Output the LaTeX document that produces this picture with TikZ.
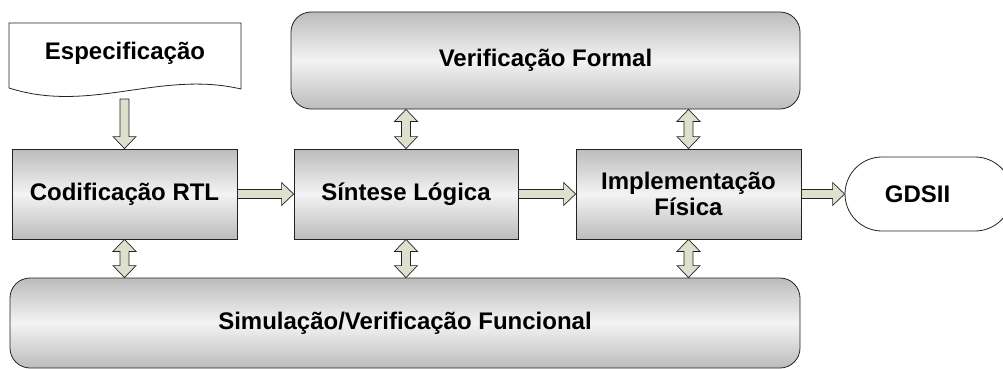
\documentclass[tikz,border=0pt]{standalone}
\usepackage{fontspec}
\setmainfont{Liberation Sans}
\usetikzlibrary{shapes.misc,calc}

\definecolor{boxgray}{RGB}{188,188,188}
\definecolor{boxlight}{RGB}{243,243,243}
\definecolor{arrowfill}{RGB}{221,224,204}
\definecolor{edge}{RGB}{35,35,35}

\tikzset{
  every node/.style={font=\bfseries\fontsize{24}{26.5}\selectfont, inner sep=0pt, align=center},
  stage/.style={rectangle, draw=edge, line width=0.8pt,
                top color=boxgray, bottom color=boxgray, middle color=boxlight},
  band/.style={stage, rounded corners=20pt},
  terminal/.style={rounded rectangle, draw=edge, line width=0.8pt, fill=white},
  fatarrow/.style={draw=edge, line width=0.7pt, fill=arrowfill, line join=miter},
}

% block arrow pointing right, from the east side of #1 to the west side of #2
\newcommand\fatright[2]{%
  \path[fatarrow] let \p1=(#1.east), \p2=(#2.west) in
    (\x1,\y1+4.5pt) -- (\x2-12pt,\y1+4.5pt) -- (\x2-12pt,\y1+11.5pt) -- (\x2,\y1)
    -- (\x2-12pt,\y1-11.5pt) -- (\x2-12pt,\y1-4.5pt) -- (\x1,\y1-4.5pt) -- cycle;}

% block arrow pointing down, from coordinate #1 to the top of node #2
\newcommand\fatdown[2]{%
  \path[fatarrow] let \p1=(#1), \p2=(#2.north) in
    (\x2-4.5pt,\y1) -- (\x2+4.5pt,\y1) -- (\x2+4.5pt,\y2+12pt) -- (\x2+11.5pt,\y2+12pt)
    -- (\x2,\y2) -- (\x2-11.5pt,\y2+12pt) -- (\x2-4.5pt,\y2+12pt) -- cycle;}

% vertical two-headed block arrow at the x of node #1, between node #2 (above) and node #3 (below)
\newcommand\fatboth[3]{%
  \path[fatarrow] let \p1=(#1.center), \p2=(#2.south), \p3=(#3.north) in
    (\x1,\y2) -- (\x1+11.5pt,\y2-12pt) -- (\x1+4.5pt,\y2-12pt) -- (\x1+4.5pt,\y3+12pt)
    -- (\x1+11.5pt,\y3+12pt) -- (\x1,\y3) -- (\x1-11.5pt,\y3+12pt) -- (\x1-4.5pt,\y3+12pt)
    -- (\x1-4.5pt,\y2-12pt) -- (\x1-11.5pt,\y2-12pt) -- cycle;}

\begin{document}
\begin{tikzpicture}[x=1pt, y=-1pt]
  \clip (0,0) rectangle (1003,369);

  % specification document with wavy lower edge
  \path[draw=edge, line width=0.8pt, fill=white]
    (9,23) -- (241,23) -- (241,89) .. controls (160,70) and (90,114) .. (9,88) -- cycle;
  \node (spec) at (125,53) {Especificação};
  \coordinate (specout) at (125,99);

  % design flow stages
  \node[stage, minimum width=225pt, minimum height=90pt] (rtl)  at (124.5,194) {Codificação RTL};
  \node[stage, minimum width=224pt, minimum height=90pt] (syn)  at (406,194)   {Síntese Lógica};
  \node[stage, minimum width=225pt, minimum height=90pt] (impl) at (688.5,194) {Implementação\\Física};
  \node[terminal, minimum width=167pt, minimum height=74pt,
        label={[xshift=-11pt]center:GDSII}] (gds) at (928.5,194) {};

  % verification bands
  \node[band, minimum width=509pt, minimum height=97pt] (vf)  at (545.5,60.5) {Verificação Formal};
  \node[band, minimum width=790pt, minimum height=90pt] (sim) at (405,323)    {Simulação/Verificação Funcional};

  % connectors
  \fatdown{specout}{rtl}
  \fatright{rtl}{syn}
  \fatright{syn}{impl}
  \fatright{impl}{gds}
  \fatboth{syn}{vf}{syn}
  \fatboth{impl}{vf}{impl}
  \fatboth{rtl}{rtl}{sim}
  \fatboth{syn}{syn}{sim}
  \fatboth{impl}{impl}{sim}
\end{tikzpicture}
\end{document}
